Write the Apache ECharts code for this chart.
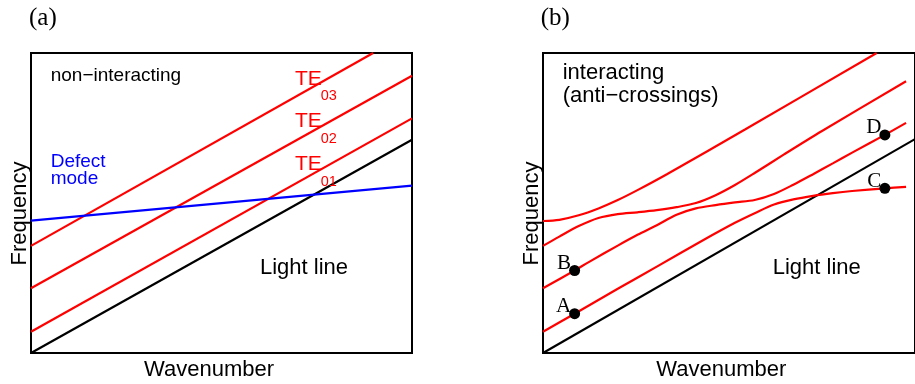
<!DOCTYPE html>
<html><head><meta charset="utf-8">
<script src="https://cdn.jsdelivr.net/npm/echarts@6/dist/echarts.min.js"></script>
<style>html,body{margin:0;padding:0;background:#fff}#c{width:915px;height:384px}</style>
</head><body><div id="c"></div>
<script>
// ---------- Panel (a): non-interacting dispersion lines ----------
const lineX      = [0, 100];
const lightLineA = [0, 71.1];
const te01A      = [7.1, 78.2];
const te02A      = [21.6, 92.4];
const te03AX     = [0, 89.8];
const te03A      = [35.7, 100];
const defectA    = [44.1, 55.8];

// ---------- Panel (b): interacting (anti-crossing) branches ----------
const lightLineB = [0, 71.3];
const branch1X = [0, 4.4, 9.6, 14.9, 20.1, 25.4, 33.3, 54.3, 89.7];
const branch1Y = [44.0, 44.4, 45.9, 48.2, 51.0, 54.3, 59.6, 74.5, 100];
const branch2X = [0, 4.4, 9.6, 14.9, 20.1, 25.4, 30.6, 35.9, 41.1, 46.4, 51.6, 56.9, 64.8, 75.0, 97.6];
const branch2Y = [35.7, 38.8, 42.3, 45.0, 46.3, 46.9, 47.6, 48.6, 50.0, 52.6, 56.0, 60.0, 66.2, 74.0, 90.6];
const branch3X = [0, 8.5, 12.3, 20.1, 25.4, 30.6, 35.9, 41.1, 46.4, 51.6, 56.9, 62.1, 67.3, 72.6, 77.9, 83.1, 91.9, 97.6];
const branch3Y = [21.6, 27.5, 30.3, 35.8, 39.4, 42.6, 46.1, 48.2, 49.3, 50.2, 51.0, 53.0, 56.1, 59.6, 63.2, 66.8, 72.7, 76.7];
const branch4X = [0, 8.5, 20.1, 30.6, 42.9, 51.6, 56.9, 62.1, 67.3, 72.6, 77.9, 83.1, 91.9, 97.6];
const branch4Y = [7.1, 13.1, 21.4, 28.8, 37.5, 43.4, 46.6, 49.5, 51.2, 52.4, 53.3, 54.0, 54.9, 55.4];

// marked states
const pointNames = ['A', 'B', 'C', 'D'];
const pointX = [8.5, 8.5, 91.9, 91.9];
const pointY = [13.1, 27.5, 54.9, 72.7];

const pairs = (xs, ys) => xs.map((x, i) => [x, ys[i]]);
const RED = '#ff0000', BLUE = '#0000ff', BLACK = '#000000';
const SANS = '"Liberation Sans", Arial, Helvetica, sans-serif';
const SERIF = '"Liberation Serif", "Times New Roman", serif';

function lineSeries(gi, data, color, smooth) {
  return {
    type: 'line', xAxisIndex: gi, yAxisIndex: gi, data: data,
    showSymbol: false, symbol: 'none', smooth: smooth || false,
    lineStyle: { color: color, width: 2.2 }, clip: true, silent: true
  };
}

function txt(x, y, text, size, color, opts) {
  opts = opts || {};
  return {
    type: 'text', x: x, y: y, rotation: opts.rotation || 0, silent: true, z: 100,
    style: {
      text: text, fill: color || BLACK,
      font: (size) + 'px ' + (opts.family || SANS),
      align: opts.align || 'left', verticalAlign: 'middle',
      lineHeight: opts.lineHeight
    }
  };
}

const chart = echarts.init(document.getElementById('c'), null, { renderer: 'canvas' });
const grids = [
  { left: 31, top: 53, width: 381, height: 300 },
  { left: 543, top: 53, width: 381, height: 300 }
].map(g => Object.assign(g, { show: true, borderColor: BLACK, borderWidth: 2, backgroundColor: 'transparent', containLabel: false }));

const axisX = [0, 1].map(i => ({ gridIndex: i, type: 'value', min: 0, max: 100, show: false }));
const axisY = [0, 1].map(i => ({ gridIndex: i, type: 'value', min: 0, max: 100, show: false }));

chart.setOption({
  animation: false,
  backgroundColor: '#ffffff',
  grid: grids,
  xAxis: axisX,
  yAxis: axisY,
  series: [
    lineSeries(0, pairs(lineX, lightLineA), BLACK),
    lineSeries(0, pairs(lineX, te01A), RED),
    lineSeries(0, pairs(lineX, te02A), RED),
    lineSeries(0, pairs(te03AX, te03A), RED),
    lineSeries(0, pairs(lineX, defectA), BLUE),

    lineSeries(1, pairs(lineX, lightLineB), BLACK),
    lineSeries(1, pairs(branch1X, branch1Y), RED, 0.3),
    lineSeries(1, pairs(branch2X, branch2Y), RED, 0.3),
    lineSeries(1, pairs(branch3X, branch3Y), RED, 0.3),
    lineSeries(1, pairs(branch4X, branch4Y), RED, 0.3),
    {
      type: 'scatter', xAxisIndex: 1, yAxisIndex: 1, silent: true, z: 5,
      data: pointNames.map((n, i) => ({ name: n, value: [pointX[i], pointY[i]] })),
      symbol: 'circle', symbolSize: 11,
      itemStyle: { color: BLACK, opacity: 1 },
      label: {
        show: true, position: 'left', distance: 0, offset: [2, -7],
        formatter: p => p.name, color: BLACK,
        fontFamily: SERIF, fontSize: 21
      }
    }
  ],
  graphic: [
    txt(29, 18, '(a)', 25, BLACK, { family: SERIF }),
    txt(540.7, 18, '(b)', 25, BLACK, { family: SERIF }),
    txt(50.7, 75.4, 'non\u2212interacting', 19, BLACK),
    txt(50.7, 170.3, 'Defect\nmode', 19, BLUE, { lineHeight: 17 }),
    txt(295, 79, 'TE', 21, RED), txt(320.7, 96.2, '03', 14.5, RED),
    txt(295, 121.3, 'TE', 21, RED), txt(320.7, 139.2, '02', 14.5, RED),
    txt(295, 164.7, 'TE', 21, RED), txt(320.7, 181.9, '01', 14.5, RED),
    txt(260, 267.7, 'Light line', 22, BLACK),
    txt(772.7, 267.7, 'Light line', 22, BLACK),
    txt(562.7, 84.7, 'interacting\n(anti\u2212crossings)', 22, BLACK, { lineHeight: 22.7 }),
    txt(209, 370.4, 'Wavenumber', 22, BLACK, { align: 'center' }),
    txt(721.3, 370.4, 'Wavenumber', 22, BLACK, { align: 'center' }),
    txt(19.5, 213.5, 'Frequency', 22, BLACK, { align: 'center', rotation: Math.PI / 2 }),
    txt(532, 213.5, 'Frequency', 22, BLACK, { align: 'center', rotation: Math.PI / 2 })
  ]
});
</script>
</body></html>
